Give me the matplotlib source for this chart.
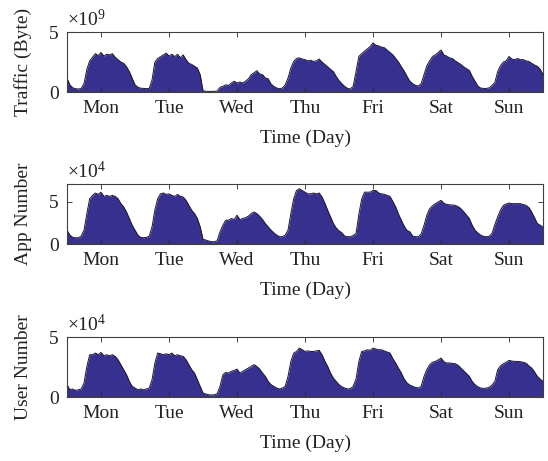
import matplotlib.pyplot as plt
import numpy as np

# hourly samples, Mon 00:00 -> Sun 24:00 (last value is end point)
days = ['Mon', 'Tue', 'Wed', 'Thu', 'Fri', 'Sat', 'Sun']

traffic = [  # x1e9 bytes
    1.15, 0.6, 0.35, 0.28, 0.25, 0.3, 0.7, 1.9, 2.6, 2.9, 3.2, 3.05, 3.3, 3.0, 3.15, 3.1, 3.2, 2.9, 2.7, 2.5, 2.4, 2.1, 1.7, 1.15,
    0.6, 0.4, 0.32, 0.3, 0.28, 0.3, 1.0, 2.5, 2.8, 2.95, 3.1, 3.25, 3.0, 3.15, 2.95, 3.15, 2.85, 3.1, 2.7, 2.4, 2.3, 2.15, 2.0, 1.45,
    0.1, 0.06, 0.05, 0.05, 0.06, 0.08, 0.4, 0.47, 0.6, 0.55, 0.75, 0.9, 0.75, 0.83, 0.75, 0.9, 1.1, 1.45, 1.6, 1.78, 1.5, 1.45, 1.17, 1.1,
    0.67, 0.47, 0.33, 0.28, 0.33, 0.6, 1.17, 2.0, 2.55, 2.8, 2.85, 2.75, 2.7, 2.6, 2.65, 2.55, 2.6, 2.75, 2.5, 2.3, 2.1, 1.9, 1.7, 1.3,
    0.95, 0.7, 0.47, 0.3, 0.25, 0.5, 1.7, 2.97, 3.2, 3.4, 3.6, 3.8, 4.1, 3.9, 3.85, 3.75, 3.7, 3.5, 3.3, 3.1, 2.8, 2.5, 2.1, 1.75,
    1.3, 0.9, 0.7, 0.55, 0.5, 0.7, 1.45, 2.2, 2.6, 2.97, 3.1, 3.3, 3.5, 3.1, 3.0, 2.85, 2.8, 2.6, 2.45, 2.3, 2.1, 1.95, 1.8, 1.3,
    0.9, 0.5, 0.33, 0.3, 0.3, 0.35, 0.55, 0.8, 1.7, 2.2, 2.5, 2.6, 2.97, 2.75, 2.7, 2.8, 2.7, 2.7, 2.6, 2.55, 2.4, 2.25, 2.15, 1.9,
    1.45]

apps = [  # x1e4
    1.63, 1.05, 0.78, 0.74, 0.74, 0.93, 1.63, 3.58, 5.33, 5.72, 6.0, 5.84, 6.1, 5.6, 5.72, 5.6, 5.72, 5.6, 5.33, 4.75, 4.36, 3.77, 3.0, 2.2,
    1.63, 1.05, 0.78, 0.74, 0.78, 0.93, 2.0, 4.0, 5.33, 5.9, 6.0, 5.84, 5.9, 5.72, 5.6, 5.84, 5.6, 5.53, 5.14, 4.55, 3.97, 3.58, 3.0, 2.02,
    0.54, 0.47, 0.35, 0.27, 0.27, 0.39, 1.44, 2.2, 2.8, 2.8, 3.0, 2.88, 3.39, 2.88, 3.0, 3.1, 3.27, 3.58, 3.77, 3.58, 3.27, 2.88, 2.41, 2.02,
    1.63, 1.32, 1.05, 0.86, 0.86, 1.05, 1.63, 3.58, 5.33, 6.3, 6.5, 6.3, 6.1, 5.9, 5.9, 6.0, 5.9, 6.0, 5.53, 4.8, 3.97, 3.2, 2.41, 1.9,
    1.55, 1.32, 0.93, 0.86, 0.86, 1.0, 1.25, 3.5, 5.3, 6.1, 6.1, 6.1, 6.3, 6.3, 6.0, 5.9, 5.85, 5.72, 5.6, 5.0, 4.36, 3.5, 2.8, 2.1,
    1.6, 1.44, 0.93, 0.86, 0.86, 1.2, 2.2, 3.4, 4.16, 4.5, 4.75, 4.95, 5.14, 4.8, 4.67, 4.6, 4.6, 4.55, 4.4, 4.16, 3.8, 3.4, 3.0, 2.2,
    1.63, 1.3, 1.05, 0.9, 0.86, 0.9, 1.25, 2.3, 3.2, 4.0, 4.55, 4.7, 4.82, 4.75, 4.75, 4.75, 4.75, 4.65, 4.55, 4.3, 3.77, 3.1, 2.41, 2.2,
    2.0]

users = [  # x1e4
    1.03, 0.61, 0.67, 0.55, 0.61, 0.67, 1.17, 2.55, 3.53, 3.53, 3.67, 3.53, 3.72, 3.44, 3.53, 3.44, 3.53, 3.39, 3.11, 2.7, 2.28, 1.86, 1.3, 0.89,
    0.75, 0.6, 0.67, 0.6, 0.67, 0.75, 1.44, 2.83, 3.67, 3.61, 3.53, 3.61, 3.53, 3.67, 3.44, 3.53, 3.44, 3.39, 3.11, 2.7, 2.28, 2.0, 1.44, 0.89,
    0.33, 0.25, 0.19, 0.17, 0.19, 0.28, 0.89, 1.86, 2.05, 2.0, 2.14, 2.22, 2.33, 2.0, 2.14, 2.28, 2.42, 2.55, 2.7, 2.55, 2.33, 2.0, 1.72, 1.3,
    1.03, 0.89, 0.75, 0.67, 0.75, 0.89, 1.72, 2.97, 3.67, 3.8, 4.08, 3.95, 3.8, 3.85, 3.8, 3.8, 3.85, 3.89, 3.53, 3.0, 2.55, 2.0, 1.58, 1.3,
    1.03, 0.85, 0.75, 0.67, 0.7, 0.9, 1.5, 2.97, 3.8, 3.85, 3.94, 3.9, 4.08, 4.0, 3.94, 3.94, 3.85, 3.75, 3.67, 3.2, 2.83, 2.4, 2.0, 1.5,
    1.17, 1.0, 0.89, 0.8, 0.75, 0.9, 1.72, 2.3, 2.7, 2.9, 2.97, 3.1, 3.25, 2.95, 2.83, 2.85, 2.8, 2.78, 2.65, 2.42, 2.2, 1.95, 1.72, 1.3,
    1.03, 0.85, 0.75, 0.72, 0.75, 0.8, 1.0, 1.3, 2.28, 2.6, 2.78, 2.9, 3.06, 3.0, 2.97, 2.97, 2.95, 2.9, 2.83, 2.6, 2.42, 2.1, 1.72, 1.5,
    1.3]

plt.rcParams['font.family'] = ['Liberation Serif', 'DejaVu Serif']
plt.rcParams['mathtext.default'] = 'regular'
plt.rcParams['font.size'] = 14

fill_color = '#38308f'
t = np.arange(len(traffic)) / 24.0

panels = [
    (traffic, 'Traffic (Byte)', r'×10$^{9}$', 5, 0.8004),
    (apps, 'App Number', r'×10$^{4}$', 7.05, 0.4707),
    (users, 'User Number', r'×10$^{4}$', 5, 0.1388),
]

fig = plt.figure(figsize=(5.48, 4.61), dpi=100)

for vals, ylab, mult, ytop, bottom in panels:
    ax = fig.add_axes([0.1223, bottom, 0.8686, 0.130])
    ax.fill_between(t, vals, 0, color=fill_color, lw=0)
    ax.plot(t, vals, color='#1a1a1a', lw=0.7)
    ax.set_xlim(0, 7)
    ax.set_ylim(0, ytop)
    ax.set_xticks(np.arange(7) + 0.5)
    ax.set_xticklabels(days)
    ax.set_yticks([0, 5])
    ax.tick_params(direction='in', top=True, right=True, length=3.5,
                   width=0.6, colors='#262626', labelcolor='#222222', pad=6)
    for s in ax.spines.values():
        s.set_color('#404040')
        s.set_linewidth(0.8)
    ax.set_xlabel('Time (Day)', color='#222222', labelpad=9)
    ax.set_ylabel(ylab, color='#222222', labelpad=12)
    ax.text(0.0, 1.03, mult, transform=ax.transAxes, ha='left', va='bottom',
            color='#222222')

fig.savefig('out.png', dpi=100)
